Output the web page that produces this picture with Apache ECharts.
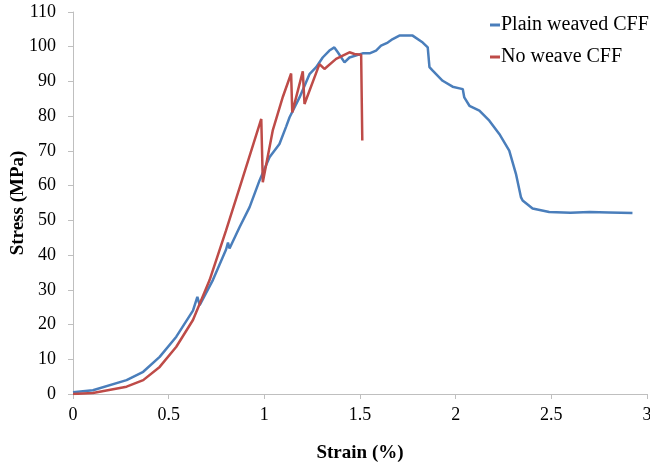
<!DOCTYPE html>
<html>
<head>
<meta charset="utf-8">
<script src="https://cdn.jsdelivr.net/npm/echarts@6/dist/echarts.min.js"></script>
<style>
html, body { margin: 0; padding: 0; background: #fff; }
#chart { width: 650px; height: 465px; }
</style>
</head>
<body>
<div id="chart"></div>
<script>
// strain (%) / stress (MPa)
var plainStrain = [0, 0.104, 0.28, 0.367, 0.453, 0.54, 0.627, 0.65, 0.662, 0.731, 0.80, 0.81, 0.818, 0.871, 0.923, 0.975, 1.027, 1.079, 1.114, 1.132, 1.184, 1.236, 1.271, 1.305, 1.34, 1.366, 1.384, 1.419, 1.445, 1.514, 1.55, 1.584, 1.61, 1.645, 1.671, 1.706, 1.775, 1.828, 1.854, 1.863, 1.88, 1.932, 1.984, 2.037, 2.045, 2.072, 2.124, 2.176, 2.228, 2.28, 2.315, 2.341, 2.35, 2.402, 2.489, 2.6, 2.7, 2.8, 2.924];
var plainStress = [0.5, 1.1, 4.0, 6.4, 10.7, 16.5, 24.0, 28.0, 25.6, 32.8, 41.6, 43.6, 41.9, 48.1, 53.8, 61.5, 68.2, 72.0, 77.0, 79.7, 85.4, 92.1, 94.1, 96.9, 98.9, 99.8, 98.4, 95.5, 96.9, 98.1, 98.1, 98.9, 100.3, 101.2, 102.2, 103.2, 103.2, 101.2, 99.8, 94.1, 93.1, 90.2, 88.5, 87.8, 85.4, 83.0, 81.6, 78.7, 74.9, 70.1, 63.4, 56.7, 55.7, 53.4, 52.4, 52.2, 52.4, 52.3, 52.1];

var noWeaveStrain = [0, 0.104, 0.28, 0.367, 0.453, 0.54, 0.627, 0.714, 0.80, 0.88, 0.984, 0.992, 1.044, 1.097, 1.14, 1.146, 1.201, 1.21, 1.288, 1.314, 1.375, 1.445, 1.471, 1.506, 1.511, 1.512];
var noWeaveStress = [0, 0.3, 2.1, 4.0, 7.8, 13.6, 21.3, 32.8, 47.1, 61.0, 79.2, 61.0, 75.9, 85.6, 92.3, 81.1, 92.9, 83.5, 95.0, 93.6, 96.5, 98.4, 97.9, 97.7, 98.0, 73.0];

var seriesNames = ['Plain weaved CFF', 'No weave CFF'];
var seriesColors = ['#4a7ebb', '#be4b48'];

function pairs(xs, ys) {
  return xs.map(function (x, i) { return [x, ys[i]]; });
}

var serif = '"Liberation Serif", "DejaVu Serif", serif';
var chart = echarts.init(document.getElementById('chart'), null, { renderer: 'canvas' });

chart.setOption({
  animation: false,
  color: seriesColors,
  grid: { left: 73, right: 3, top: 12, bottom: 71, containLabel: false, outerBoundsMode: 'none' },
  legend: {
    orient: 'vertical',
    left: 485,
    top: 10,
    itemGap: 12,
    itemWidth: 10,
    itemHeight: 3,
    icon: 'rect',
    textStyle: { fontFamily: serif, fontSize: 20, color: '#000', padding: [0, 0, 0, -4] },
    data: seriesNames
  },
  xAxis: {
    type: 'value',
    min: 0, max: 3, interval: 0.5,
    name: 'Strain (%)',
    nameLocation: 'middle',
    nameGap: 50,
    nameMoveOverlap: false,
    nameTextStyle: { fontFamily: serif, fontSize: 19, fontWeight: 'bold', color: '#000' },
    axisLine: { show: true, lineStyle: { color: '#bfbfbf', width: 1 } },
    axisTick: { show: true, length: 5, lineStyle: { color: '#bfbfbf' } },
    axisLabel: { fontFamily: serif, fontSize: 18, color: '#000', margin: 12 },
    splitLine: { show: false }
  },
  yAxis: {
    type: 'value',
    min: 0, max: 110, interval: 10,
    name: 'Stress (MPa)',
    nameLocation: 'middle',
    nameGap: 45,
    nameMoveOverlap: false,
    nameTextStyle: { fontFamily: serif, fontSize: 19, fontWeight: 'bold', color: '#000' },
    axisLine: { show: true, lineStyle: { color: '#bfbfbf', width: 1 } },
    axisTick: { show: true, length: 5, lineStyle: { color: '#bfbfbf' } },
    axisLabel: { fontFamily: serif, fontSize: 18, color: '#000', margin: 17 },
    splitLine: { show: false }
  },
  series: [
    {
      name: seriesNames[0],
      type: 'line',
      showSymbol: false,
      data: pairs(plainStrain, plainStress),
      lineStyle: { width: 2.5, color: seriesColors[0] }
    },
    {
      name: seriesNames[1],
      type: 'line',
      showSymbol: false,
      data: pairs(noWeaveStrain, noWeaveStress),
      lineStyle: { width: 2.5, color: seriesColors[1] }
    }
  ]
});
</script>
</body>
</html>
